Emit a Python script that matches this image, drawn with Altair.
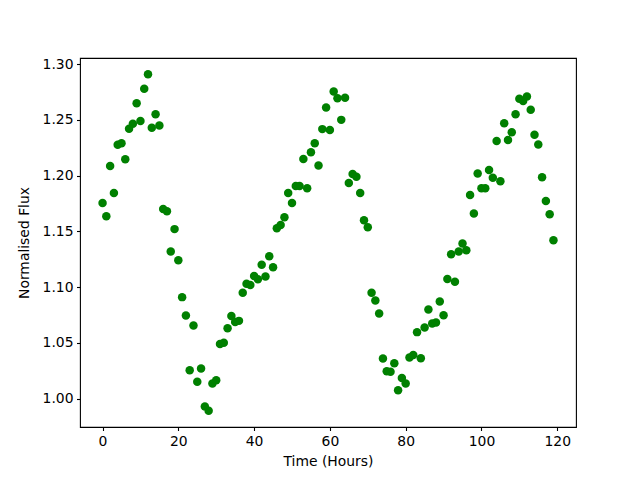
import altair as alt
import pandas as pd

hours = list(range(120))
flux = [
    1.1755, 1.1635, 1.2087, 1.1845, 1.2276, 1.2291, 1.2147, 1.2420, 1.2465, 1.2650,
    1.2490, 1.2780, 1.2910, 1.2430, 1.2550, 1.2450, 1.1700, 1.1680, 1.1320, 1.1520,
    1.1240, 1.0910, 1.0746, 1.0254, 1.0656, 1.0150, 1.0270, 0.9930, 0.9890, 1.0135,
    1.0164, 1.0490, 1.0500, 1.0630, 1.0740, 1.0686, 1.0697, 1.0950, 1.1030, 1.1018,
    1.1100, 1.1070, 1.1200, 1.1096, 1.1276, 1.1177, 1.1527, 1.1557, 1.1626, 1.1845,
    1.1755, 1.1907, 1.1907, 1.2150, 1.1887, 1.2210, 1.2290, 1.2090, 1.2417, 1.2610,
    1.2410, 1.2755, 1.2695, 1.2500, 1.2698, 1.1934, 1.2015, 1.1990, 1.1845, 1.1600,
    1.1536, 1.0950, 1.0880, 1.0764, 1.0360, 1.0245, 1.0240, 1.0317, 1.0075, 1.0185,
    1.0135, 1.0368, 1.0390, 1.0596, 1.0362, 1.0638, 1.0800, 1.0674, 1.0683, 1.0871,
    1.0748, 1.1072, 1.1294, 1.1048, 1.1320, 1.1390, 1.1330, 1.1827, 1.1660, 1.2020,
    1.1887, 1.1887, 1.2050, 1.1980, 1.2310, 1.1950, 1.2470, 1.2320, 1.2390, 1.2550,
    1.2690, 1.2670, 1.2710, 1.2590, 1.2366, 1.2280, 1.1986, 1.1773, 1.1653, 1.1420,
]
x_ticks = [0, 20, 40, 60, 80, 100, 120]
y_ticks = [1.00, 1.05, 1.10, 1.15, 1.20, 1.25, 1.30]

df = pd.DataFrame({"t": hours, "f": flux})

font = "DejaVu Sans"

chart = (
    alt.Chart(df)
    .mark_circle(color="#008000", opacity=1, size=72)
    .encode(
        x=alt.X(
            "t:Q",
            title="Time (Hours)",
            scale=alt.Scale(domain=[-5.95, 124.95], nice=False, zero=False),
            axis=alt.Axis(values=x_ticks, format="d", grid=False),
        ),
        y=alt.Y(
            "f:Q",
            title="Normalised Flux",
            scale=alt.Scale(domain=[0.9745, 1.3055], nice=False, zero=False),
            axis=alt.Axis(values=y_ticks, format=".2f", grid=False, titlePadding=11),
        ),
    )
    .properties(
        width=496,
        height=369,
        autosize=alt.AutoSizeParams(type="none"),
        padding={"left": 72, "top": 50, "right": 56, "bottom": 45},
    )
    .configure_view(stroke="black", strokeWidth=1.1)
    .configure_axis(
        domain=False,
        tickColor="black",
        tickSize=3.5,
        tickWidth=1.1,
        labelPadding=3.5,
        labelFont=font,
        labelFontSize=13.9,
        labelColor="black",
        titleFont=font,
        titleFontSize=13.9,
        titleFontWeight="normal",
        titleColor="black",
    )
    .configure_axisX(titlePadding=7)
)

chart.save("out.html", embed_options={"renderer": "svg", "actions": False})
